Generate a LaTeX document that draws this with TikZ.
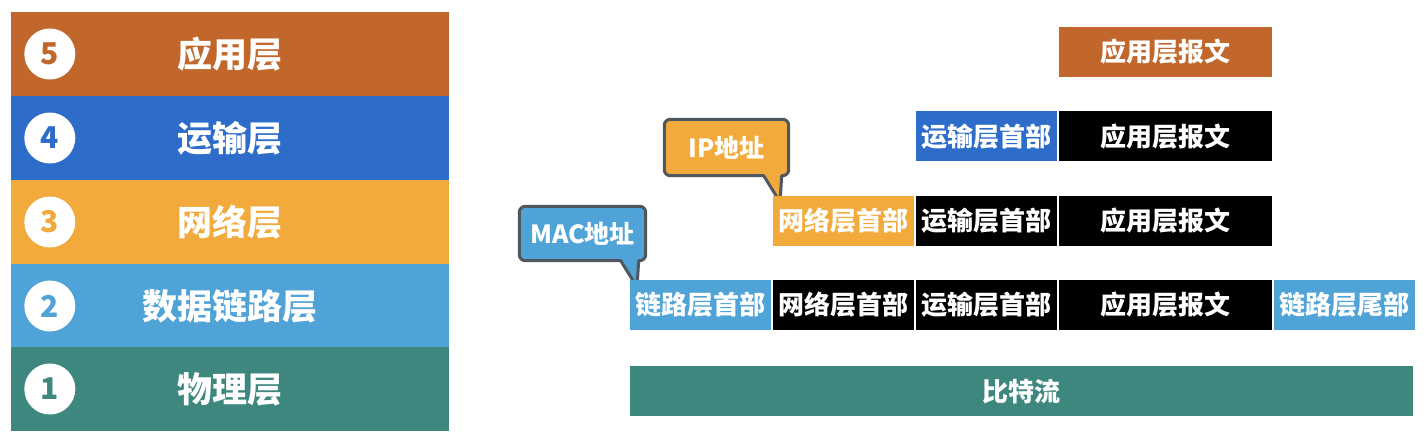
\documentclass[tikz,border=0pt]{standalone}
\usepackage{fontspec}
\setmainfont{Noto Sans CJK SC}
\usetikzlibrary{positioning,backgrounds}
\definecolor{appc}{HTML}{C1672B}
\definecolor{trac}{HTML}{2D6CC8}
\definecolor{netc}{HTML}{F1AA3B}
\definecolor{linkc}{HTML}{4FA3D6}
\definecolor{phyc}{HTML}{3D877F}
\definecolor{bubbleline}{HTML}{50565E}

\begin{document}
\begin{tikzpicture}[x=1pt, y=-1pt,
    node distance=34pt and 1.5pt,
    band/.style={rectangle, minimum width=438pt, minimum height=84pt, inner sep=0pt, text=white, font=\fontsize{35}{35}\selectfont\bfseries},
    num/.style={circle, fill=white, minimum size=51pt, inner sep=0pt, font=\fontsize{30}{30}\selectfont\bfseries},
    hdr/.style={rectangle, minimum width=141pt, minimum height=50pt, inner sep=0pt, text=white, font=\fontsize{26}{26}\selectfont\bfseries},
    msg/.style={hdr, minimum width=213pt},
    bubbletext/.style={inner sep=0pt, text=white, font=\fontsize{25}{25}\selectfont\bfseries},
    bubble/.style={draw=bubbleline, line width=3pt, line join=round}
]
\useasboundingbox (0,0) rectangle (1426,444);

% Layer stack
\node[band, fill=appc] (l5) at (230,54) {应用层};
\node[band, fill=trac] (l4) at (230,138) {运输层};
\node[band, fill=netc] (l3) at (230,222) {网络层};
\node[band, fill=linkc] (l2) at (230,306) {数据链路层};
\node[band, fill=phyc] (l1) at (230,389) {物理层};
\node[num, text=appc] (n5) at ([xshift=39pt]l5.west) {5};
\node[num, text=trac] (n4) at ([xshift=39pt]l4.west) {4};
\node[num, text=netc] (n3) at ([xshift=39pt]l3.west) {3};
\node[num, text=linkc] (n2) at ([xshift=39pt]l2.west) {2};
\node[num, text=phyc] (n1) at ([xshift=39pt]l1.west) {1};

% Frame
\node[hdr, fill=linkc, anchor=west] (lh) at (630,305) {链路层首部};
\node[hdr, fill=black, right=of lh] (nh) {网络层首部};
\node[hdr, fill=black, right=of nh] (th) {运输层首部};
\node[msg, fill=black, right=of th] (am) {应用层报文};
\node[hdr, fill=linkc, right=of am] (lt) {链路层尾部};

% Packet
\node[hdr, fill=netc, above=of nh] (nh3) {网络层首部};
\node[hdr, fill=black, right=of nh3] (th3) {运输层首部};
\node[msg, fill=black, right=of th3] (am3) {应用层报文};

% Segment
\node[hdr, fill=trac, above=of th3] (th2) {运输层首部};
\node[msg, fill=black, right=of th2] (am2) {应用层报文};

% Message
\node[msg, fill=appc, above=of am2] (am1) {应用层报文};

% Bits
\node[hdr, fill=phyc, minimum width=783pt, below=36pt of lh.south west, anchor=north west] (bits) {比特流};

% Callouts
\node[bubbletext, minimum width=124pt, minimum height=56pt] (ip) at (726.5,147.5) {IP地址};
\coordinate (iptip) at (780,202);
\node[bubbletext, minimum width=126pt, minimum height=54pt] (mac) at (582.5,233.5) {MAC地址};
\coordinate (mactip) at (637,287);
\begin{scope}[on background layer]
\draw[bubble, fill=netc] ([xshift=-7pt]ip.south east) -- (iptip) -- ([xshift=-25pt]ip.south east) [rounded corners=6pt] -- (ip.south west) -- (ip.north west) -- (ip.north east) -- (ip.south east) [sharp corners] -- cycle;
\draw[bubble, fill=linkc] ([xshift=-7pt]mac.south east) -- (mactip) -- ([xshift=-25pt]mac.south east) [rounded corners=6pt] -- (mac.south west) -- (mac.north west) -- (mac.north east) -- (mac.south east) [sharp corners] -- cycle;
\end{scope}
\end{tikzpicture}
\end{document}
